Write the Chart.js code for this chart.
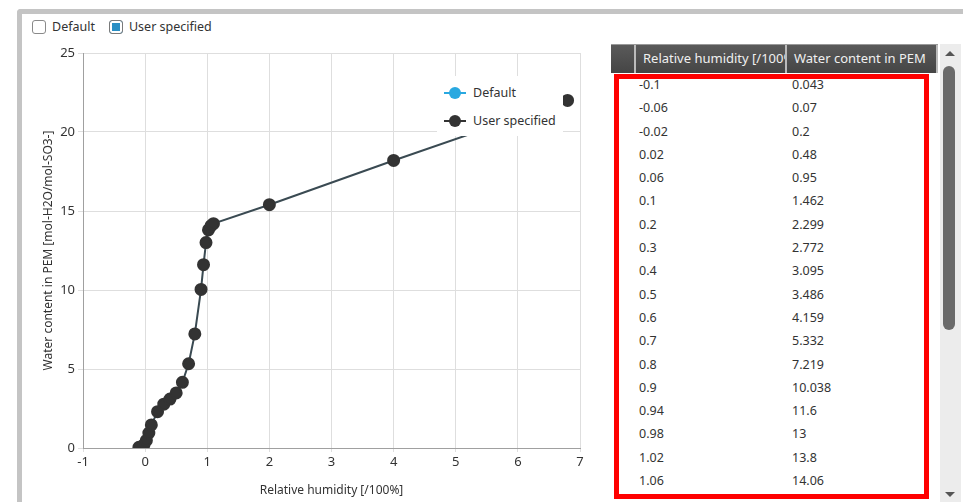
<!DOCTYPE html>
<html>
<head>
<meta charset="utf-8">
<script src="https://cdn.jsdelivr.net/npm/chart.js@4"></script>
<style>
  body { margin: 0; width: 963px; height: 502px; overflow: hidden; background: #fff; font-family: "Noto Sans", sans-serif; color: #333; }
  .frame { position: absolute; left: 17px; top: 9px; width: 960px; height: 510px; border-top: 5px solid #c4c4c4; border-left: 5px solid #c4c4c4; border-top-left-radius: 4px; }
  .checks { position: absolute; left: 32px; top: 18px; font-size: 12.5px; display: flex; align-items: center; }
  .box { width: 12px; height: 12px; border: 1px solid #8a8a8a; border-radius: 3px; display: inline-block; margin-right: 6px; background: #fff; }
  .box.on { background: #2a8fc4; box-shadow: inset 0 0 0 2px #fff; border-color: #7a7a7a; }
  .checks span.lbl { margin-right: 14px; }
  #chartWrap { position: absolute; left: 20px; top: 40px; width: 580px; height: 462px; }
  .legend { position: absolute; left: 437px; top: 76px; width: 126px; height: 60px; background: #fff; font-size: 12.5px; z-index: 2; }
  .legend div { position: absolute; left: 7px; display: flex; align-items: center; }
  .mk { position: relative; width: 22px; height: 12px; margin-right: 7px; }
  .mk::before { content: ""; position: absolute; left: 0; right: 0; top: 5px; height: 2px; }
  .mk::after { content: ""; position: absolute; left: 5px; top: 0; width: 12px; height: 12px; border-radius: 50%; }
  .mk.def::before, .mk.def::after { background: #29a8e0; }
  .mk.usr::before, .mk.usr::after { background: #333; }
  .tbl { position: absolute; left: 611px; top: 44px; width: 327px; font-size: 12.5px; }
  .hdr { height: 28px; display: flex; background: linear-gradient(#5a5a5a, #454545); color: #f0f0f0; border-top: 1px solid #999; font-size: 13px; }
  .hdr div { border-right: 2px solid #bbb; line-height: 27px; padding-left: 7px; overflow: hidden; white-space: nowrap; box-sizing: border-box; }
  .row { height: 23.3px; display: flex; line-height: 23px; }
  .row div { box-sizing: border-box; }
  .red { position: absolute; left: 614px; top: 74px; width: 315px; height: 425px; border: 5px solid #f00; box-sizing: border-box; pointer-events: none; }
  .scroll { position: absolute; left: 940px; top: 44px; width: 21px; height: 460px; background: #ececec; }
  .thumb { position: absolute; left: 3px; top: 22px; width: 12px; height: 264px; background: #6a6a6a; border-radius: 6px; }
  .arr { position: absolute; left: 5px; width: 0; height: 0; border-left: 5px solid transparent; border-right: 5px solid transparent; }
</style>
</head>
<body>
<div class="frame"></div>
<div class="checks">
  <span class="box"></span><span class="lbl">Default</span>
  <span class="box on"></span><span class="lbl">User specified</span>
</div>
<div id="chartWrap"><canvas id="chart"></canvas></div>
<div class="legend">
  <div style="top:8px"><span class="mk def"></span>Default</div>
  <div style="top:36px"><span class="mk usr"></span>User specified</div>
</div>
<div class="tbl" id="tbl"></div>
<div class="red"></div>
<div class="scroll">
  <div class="arr" style="top:7px;border-bottom:5px solid #555"></div>
  <div class="thumb"></div>
  <div class="arr" style="top:448px;border-top:5px solid #555"></div>
</div>
<script>
const relHumidity = [-0.1, -0.06, -0.02, 0.02, 0.06, 0.1, 0.2, 0.3, 0.4, 0.5, 0.6, 0.7, 0.8, 0.9, 0.94, 0.98, 1.02, 1.06, 1.1, 2, 4, 6.8];
const waterContent = [0.043, 0.07, 0.2, 0.48, 0.95, 1.462, 2.299, 2.772, 3.095, 3.486, 4.159, 5.332, 7.219, 10.038, 11.6, 13, 13.8, 14.06, 14.2, 15.4, 18.2, 22];
const visibleRows = 18;

// table
const tbl = document.getElementById('tbl');
let html = '<div class="hdr"><div style="width:25px"></div><div style="width:151px">Relative humidity [/100%]</div><div style="width:151px">Water content in PEM</div></div>';
for (let i = 0; i < visibleRows; i++) {
  html += '<div class="row"><div style="width:28px"></div><div style="width:153px">' + relHumidity[i] + '</div><div>' + waterContent[i] + '</div></div>';
}
tbl.innerHTML = html;

const points = relHumidity.map((x, i) => ({ x: x, y: waterContent[i] }));
const tickFont = { family: 'Noto Sans', size: 13 };

new Chart(document.getElementById('chart'), {
  type: 'scatter',
  data: {
    datasets: [{
      label: 'User specified',
      data: points,
      showLine: true,
      borderColor: '#3a4a52',
      borderWidth: 2,
      backgroundColor: '#333',
      pointBackgroundColor: '#333',
      pointBorderColor: '#333',
      pointRadius: 5.5,
    }]
  },
  options: {
    responsive: true,
    maintainAspectRatio: false,
    animation: false,
    layout: { padding: { top: 13, right: 20, left: 17 } },
    plugins: { legend: { display: false }, tooltip: { enabled: false } },
    scales: {
      x: {
        type: 'linear',
        min: -1,
        max: 7,
        ticks: { stepSize: 1, color: '#333', font: tickFont, padding: 2 },
        grid: { color: '#dedede', drawTicks: true, tickLength: 4 },
        border: { color: '#a0a0a0' },
        title: { display: true, text: 'Relative humidity [/100%]', color: '#333', font: { family: 'Noto Sans', size: 12 } },
        afterFit: (s) => { s.height = 54; }
      },
      y: {
        min: 0,
        max: 25,
        ticks: { stepSize: 5, color: '#333', font: tickFont, padding: 3 },
        grid: { color: '#dedede', tickLength: 5 },
        border: { color: '#a0a0a0' },
        title: { display: true, text: 'Water content in PEM [mol-H2O/mol-SO3-]', color: '#333', font: { family: 'Noto Sans', size: 12 } },
        afterFit: (s) => { s.width = 46; }
      }
    }
  }
});
</script>
</body>
</html>
